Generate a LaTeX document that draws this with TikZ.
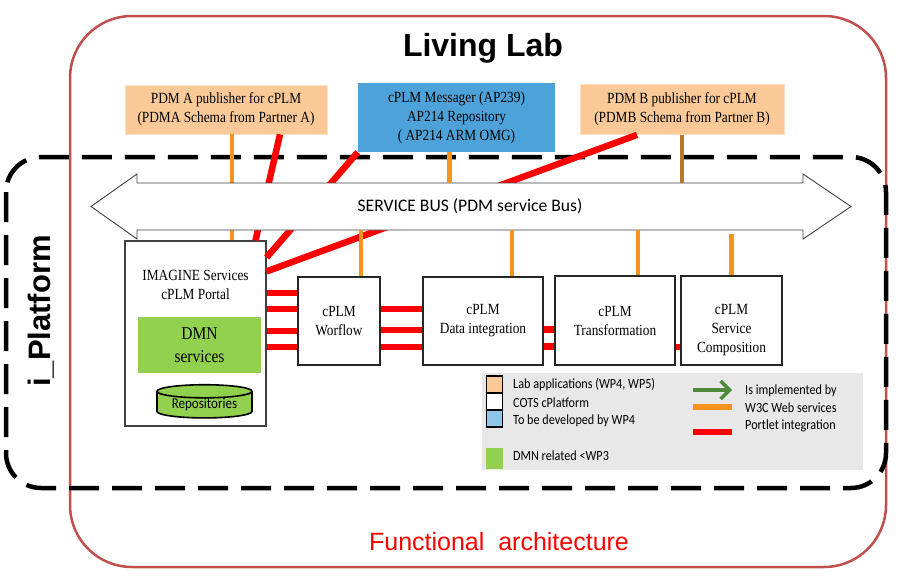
\documentclass[tikz,border=0pt]{standalone}
\usepackage{fontspec}
\usepackage{tikz}
\usetikzlibrary{arrows.meta,calc,shapes.geometric}
\newfontfamily\tnr{Liberation Serif}[FakeStretch=0.86]
\newfontfamily\calnarrow{Carlito}[FakeStretch=0.87]
\newfontfamily\calfont{Carlito}
\newfontfamily\arialfont{Liberation Sans}
\definecolor{Peach}{HTML}{FAC997}
\definecolor{Cerulean}{HTML}{4DA3D9}
\definecolor{Malibu}{HTML}{8EC6EA}
\definecolor{Conifer}{HTML}{92D050}
\definecolor{Carrot}{HTML}{F7941D}
\definecolor{Mocha}{HTML}{B8772A}
\definecolor{Chestnut}{HTML}{C0504D}
\definecolor{Fern}{HTML}{4F8A3B}
\definecolor{Gallery}{HTML}{E8E8E8}
\tikzset{
  tnrtext/.style={font=\tnr\fontsize{15.5}{19}\selectfont,align=center},
  pubbox/.style={fill=Peach,draw=Peach!60!white,line width=0.8pt,inner sep=0pt,tnrtext},
  cbox/.style={draw=black!85,line width=1.1pt,fill=white,inner sep=0pt,tnrtext},
  ws/.style={draw=Carrot,line width=4.5pt},
  portlet/.style={draw=red,line width=6.5pt},
  legtext/.style={font=\calnarrow\fontsize{14}{16}\selectfont,anchor=west,inner sep=0pt},
  swatch/.style={draw=black,line width=1.6pt,minimum width=16pt,minimum height=17pt,inner sep=0pt}
}
\begin{document}
\begin{tikzpicture}[x=1pt,y=-1pt]
    \useasboundingbox (0,0) rectangle (915,581);
    \fill[white] (0,0) rectangle (915,581);

    \draw[draw=Chestnut,line width=2.5pt,rounded corners=62pt] (70,16) rectangle (886,567);
    \draw[black,line width=4.5pt,dash pattern=on 30pt off 13pt,rounded corners=35pt] (6,157) rectangle (886,488);

    \node[font=\arialfont\bfseries\fontsize{32}{36}\selectfont,anchor=base] (living) at (483,56.5) {Living Lab};
    \node[font=\arialfont\bfseries\fontsize{31}{36}\selectfont,rotate=90,anchor=base] (iplat) at (50,311) {i\_Platform};
    \node[font=\arialfont\fontsize{25}{30}\selectfont,text=red,anchor=base] (func) at (499,550) {Functional\ \ architecture};

    \node[pubbox,minimum width=202pt,minimum height=49pt] (pdma) at (226,109.5) {PDM A publisher for cPLM\\(PDMA Schema from Partner A)};
    \node[fill=Cerulean,inner sep=0pt,tnrtext,minimum width=197pt,minimum height=69pt] (msg) at (456.5,117.5) {cPLM Messager (AP239)\\AP214 Repository\\( AP214 ARM OMG)};
    \node[pubbox,minimum width=204pt,minimum height=50pt] (pdmb) at (682,109.5) {PDM B publisher for cPLM\\(PDMB Schema from Partner B)};

    \node[draw=black!75,line width=1.1pt,fill=white,minimum width=141pt,minimum height=185pt] (portal) at (195.5,333.5) {};
    \node[tnrtext] (portaltxt) at ($(portal.north)+(0,44)$) {IMAGINE Services\\cPLM Portal};
    \node[fill=Conifer,inner sep=0pt,align=center,font=\tnr\fontsize{18}{23}\selectfont,minimum width=123pt,minimum height=56pt] (dmn) at (199.5,345) {DMN\\services};
    \node[cylinder,shape border rotate=90,aspect=0.2,draw=black,line width=1.6pt,fill=Conifer,minimum width=95pt,minimum height=32pt,inner sep=0pt,font=\calnarrow\fontsize{15}{17}\selectfont] (repo) at (204.5,405) {Repositories};

    \node[cbox,minimum width=82pt,minimum height=88pt] (wf) at (339,321) {cPLM\\Worflow};
    \node[cbox,minimum width=120pt,minimum height=88pt] (di) at (483,321) {cPLM\\Data integration};
    \node[cbox,minimum width=120pt,minimum height=89pt] (tr) at (615,320.5) {cPLM\\Transformation};
    \node[cbox,minimum width=101pt,minimum height=89pt] (sc) at (731.5,320.5) {};
    \node[tnrtext] (sctxt) at ($(sc.center)+(0,9.5)$) {cPLM\\Service\\Composition};

    % behind the bus
    \draw[ws] ($(pdma.south)+(6,0)$) coordinate (pa) -- (pa |- portal.north);
    \draw[portlet] ($(pdma.south)+(54,0)$) -- ($(portal.north)+(60,0)$);
    \draw[portlet] (msg.south west) -- ($(portal.north east)+(0,17)$);
    \draw[portlet] ($(pdmb.south)+(-45,0)$) -- ($(portal.north east)+(0,31)$);

    \path (470,206.5) node[minimum width=666pt,minimum height=47pt,inner sep=0pt,outer sep=0pt] (busbody) {};
    \draw[draw=black!75,line width=0.9pt,fill=white] (busbody.north west) -- ++(0,-9) -- ++(-46,32.5) -- ++(46,32.5) -- ++(0,-9)
        -- (busbody.south east) -- ++(0,9) -- ++(48,-32.5) -- ++(-48,-32.5) -- ++(0,9) -- cycle;
    \node[font=\calfont\fontsize{17.6}{20}\selectfont] (bus) at (busbody) {SERVICE BUS (PDM service Bus)};

    \draw[ws] ($(msg.south)+(-7,0)$) coordinate (ma) -- (ma |- busbody.north);
    \draw[ws,draw=Mocha] (pdmb.south) -- (pdmb.south |- busbody.north);
    \draw[ws] ($(wf.north)+(22,0)$) coordinate (wa) -- (wa |- busbody.south);
    \draw[ws] ($(di.north)+(29,0)$) coordinate (da) -- (da |- busbody.south);
    \draw[ws] ($(tr.north)+(23,0)$) coordinate (ta) -- (ta |- busbody.south);
    \draw[ws] (sc.north) -- ++(0,-41);

    \foreach \dy in {-28,-12,10,26}
        \draw[portlet] ($(wf.west)+(0,\dy)$) coordinate (p) -- (p -| portal.east);
    \foreach \dy in {-12,9,26}
        \draw[portlet] ($(di.west)+(0,\dy)$) coordinate (p) -- (p -| wf.east);
    \foreach \dy in {9,26}
        \draw[portlet] ($(tr.west)+(0,\dy)$) coordinate (p) -- (p -| di.east);
    \draw[portlet] ($(sc.west)+(0,26.5)$) coordinate (p) -- (p -| tr.east);

    % legend
    \node[fill=Gallery,minimum width=381pt,minimum height=97pt,inner sep=0pt] (legend) at (672.5,421.5) {};
    \node[swatch,fill=Peach] (sw1) at (494.5,384.5) {};
    \node[swatch,fill=white] (sw2) at (494.5,401.5) {};
    \node[swatch,fill=Malibu] (sw3) at (494.5,418.5) {};
    \node[fill=Conifer,minimum width=17pt,minimum height=21pt,inner sep=0pt] (sw4) at (494.5,458.5) {};
    \node[legtext] (lab) at (513,385) {Lab applications (WP4, WP5)};
    \node[legtext] (cots) at (513,403) {COTS cPlatform};
    \node[legtext] (tbd) at (513,421) {To be developed by WP4};
    \node[legtext] (dmnrel) at (513,456) {DMN related <WP3};

    \coordinate (impl) at (693,390);
    \draw[Fern,line width=3.5pt,-{Straight Barb[length=9pt,width=18pt]}] (impl) -- ++(39,0);
    \coordinate (wsleg) at (693,407);
    \draw[ws,line width=6pt] (wsleg) -- ++(39,0);
    \coordinate (ptleg) at (693,432);
    \draw[portlet,line width=6pt] (ptleg) -- ++(39,0);
    \node[legtext] (implt) at (745,391) {Is implemented by};
    \node[legtext] (wst) at (745,408) {W3C Web services};
    \node[legtext] (ptt) at (745,426) {Portlet integration};
\end{tikzpicture}
\end{document}
